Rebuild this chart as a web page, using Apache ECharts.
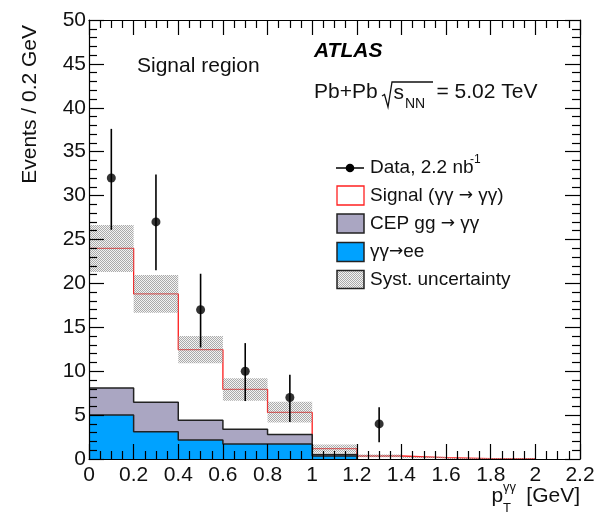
<!DOCTYPE html>
<html><head><meta charset="utf-8">
<script src="https://cdn.jsdelivr.net/npm/echarts@6/dist/echarts.min.js"></script>
<style>html,body{margin:0;padding:0;background:#fff}#c{width:598px;height:515px}</style>
</head><body><div id="c"></div>
<script>
// ---- data ----
const binEdges = [0, 0.2, 0.4, 0.6, 0.8, 1.0, 1.2, 1.4, 1.6, 1.8, 2.0];
const eeValues = [5.0, 3.1, 2.15, 1.7, 1.7, 0.35, 0, 0, 0, 0];
const cepValues = [3.1, 3.35, 2.25, 1.7, 1.1, 0.15, 0, 0, 0, 0];
const signalValues = [15.9, 12.35, 8.05, 4.53, 2.5, 0.68, 0.34, 0.15, 0.05, 0.05];
const systLow = [21.3, 16.67, 10.9, 6.64, 4.17, 0.7, 0.2, 0.08, 0, 0];
const systHigh = [26.65, 20.96, 14.0, 9.19, 6.53, 1.65, 0.5, 0.25, 0.1, 0.1];
const dataX = [0.1, 0.3, 0.5, 0.7, 0.9, 1.3];
const dataY = [32, 27, 17, 10, 7, 4];
const dataErrLow = [26.1, 21.5, 12.7, 6.6, 4.2, 1.9];
const dataErrHigh = [37.6, 32.4, 21.1, 13.2, 9.6, 5.9];
const xTickLabels = ['0','0.2','0.4','0.6','0.8','1','1.2','1.4','1.6','1.8','2','2.2'];
const yTickLabels = ['0','5','10','15','20','25','30','35','40','45','50'];

// ---- helpers ----
const FONT = '"Liberation Sans", Arial, Helvetica, sans-serif';
const cepTotal = eeValues.map((v, i) => v + cepValues[i]);
const sigTotal = cepTotal.map((v, i) => v + signalValues[i]);
function stepData(vals) {
  let last = vals.length - 1;
  while (last > 0 && vals[last] === 0) last--;
  const out = [];
  for (let i = 0; i <= last; i++) out.push([binEdges[i], vals[i]]);
  out.push([binEdges[last + 1], 0]);
  return out;
}
const pc = document.createElement('canvas');
pc.width = 4; pc.height = 4;
const pctx = pc.getContext('2d');
for (let y = 0; y < 4; y++) for (let x = 0; x < 4; x++) {
  const odd = ((x + y) % 2 === 0);
  pctx.fillStyle = odd ? 'rgba(125,125,125,0.65)' : 'rgba(225,225,225,0.4)';
  pctx.fillRect(x, y, 1, 1);
}
const hatch = { image: pc, repeat: 'repeat' };

const chart = echarts.init(document.getElementById('c'), null, { renderer: 'canvas' });
const tickStyle = { color: '#000', width: 1.2 };
function mkAxis(extra) {
  return Object.assign({
    type: 'value', z: 10,
    axisLine: { show: true, onZero: false, lineStyle: { color: '#000', width: 1.2 } },
    splitLine: { show: false },
  }, extra);
}
const legRich = { n: { fontSize: 19, fontFamily: FONT, fill: '#111' },
                  a: { fontSize: 17, fontFamily: '"DejaVu Sans", sans-serif', fill: '#111' } };
const option = {
  animation: false,
  textStyle: { fontFamily: FONT },
  grid: { left: 89, right: 18, top: 20, bottom: 56, containLabel: false },
  xAxis: [
    mkAxis({
      min: 0, max: 2.2, interval: 0.2, position: 'bottom',
      axisTick: { inside: true, length: 15, lineStyle: tickStyle },
      minorTick: { show: true, splitNumber: 4, length: 8, lineStyle: tickStyle },
      axisLabel: { fontSize: 21, color: '#111', margin: 6, fontFamily: FONT,
        formatter: v => xTickLabels[Math.round(v / 0.2)] }
    }),
    mkAxis({
      min: 0, max: 2.2, interval: 0.2, position: 'top',
      axisTick: { inside: true, length: 15, lineStyle: tickStyle },
      minorTick: { show: true, splitNumber: 4, length: 8, lineStyle: tickStyle },
      axisLabel: { show: false }
    })
  ],
  yAxis: [
    mkAxis({
      min: 0, max: 50, interval: 5, position: 'left',
      axisTick: { inside: true, length: 15, lineStyle: tickStyle },
      minorTick: { show: true, splitNumber: 5, length: 8, lineStyle: tickStyle },
      axisLabel: { fontSize: 21, color: '#111', margin: 3, fontFamily: FONT,
        formatter: v => yTickLabels[Math.round(v / 5)] }
    }),
    mkAxis({
      min: 0, max: 50, interval: 5, position: 'right',
      axisTick: { inside: true, length: 15, lineStyle: tickStyle },
      minorTick: { show: true, splitNumber: 5, length: 8, lineStyle: tickStyle },
      axisLabel: { show: false }
    })
  ],
  series: [
    { name: 'Signal', type: 'line', step: 'end', symbol: 'none', z: 2,
      data: stepData(sigTotal), lineStyle: { color: '#ff1a1a', width: 1.3 } },
    { name: 'Syst', type: 'custom', z: 3,
      data: binEdges.slice(0, -1).map((e, i) => [e, binEdges[i + 1], systLow[i], systHigh[i]]).filter(d => d[3] > 0),
      encode: { x: [0, 1], y: [2, 3] },
      renderItem: (params, api) => {
        const p0 = api.coord([api.value(0), api.value(3)]);
        const p1 = api.coord([api.value(1), api.value(2)]);
        return { type: 'rect', shape: { x: p0[0], y: p0[1], width: p1[0] - p0[0], height: p1[1] - p0[1] },
          style: { fill: hatch } };
      } },
    { name: 'CEP', type: 'line', step: 'end', symbol: 'none', z: 4,
      data: stepData(cepTotal), lineStyle: { color: '#222', width: 1.5 },
      areaStyle: { color: '#aaa6c2', opacity: 1 } },
    { name: 'ee', type: 'line', step: 'end', symbol: 'none', z: 5,
      data: stepData(eeValues), lineStyle: { color: '#222', width: 1.5 },
      areaStyle: { color: '#00a2ff', opacity: 1 } },
    { name: 'DataErr', type: 'custom', z: 6,
      data: dataX.map((x, i) => [x, dataErrLow[i], dataErrHigh[i]]),
      encode: { x: 0, y: [1, 2] },
      renderItem: (params, api) => {
        const lo = api.coord([api.value(0), api.value(1)]);
        const hi = api.coord([api.value(0), api.value(2)]);
        return { type: 'line', shape: { x1: lo[0], y1: lo[1], x2: hi[0], y2: hi[1] },
          style: { stroke: '#000', lineWidth: 1.6 } };
      } },
    { name: 'Data', type: 'scatter', z: 7, symbol: 'circle', symbolSize: 9,
      data: dataX.map((x, i) => [x, dataY[i]]), itemStyle: { color: '#000' } }
  ],
  graphic: [
    { type: 'text', z: 20, style: { text: 'Signal region', x: 137, y: 66, font: '21px ' + FONT, fill: '#111', textAlign: 'left', textVerticalAlign: 'middle' } },
    { type: 'text', z: 20, style: { text: 'ATLAS', x: 314, y: 51, font: 'italic bold 21px ' + FONT, fill: '#000', textAlign: 'left', textVerticalAlign: 'middle' } },
    { type: 'text', z: 20, style: { text: 'Pb+Pb', x: 314, y: 92, font: '21px ' + FONT, fill: '#111', textAlign: 'left', textVerticalAlign: 'middle' } },
    { type: 'polyline', z: 20, shape: { points: [[382, 96], [384.5, 94.5], [388, 107], [392, 82], [433, 82]] }, style: { stroke: '#111', lineWidth: 1.3, fill: null } },
    { type: 'text', z: 20, style: { text: 's', x: 393.5, y: 93, font: '21px ' + FONT, fill: '#111', textAlign: 'left', textVerticalAlign: 'middle' } },
    { type: 'text', z: 20, style: { text: 'NN', x: 405, y: 104, font: '14px ' + FONT, fill: '#111', textAlign: 'left', textVerticalAlign: 'middle' } },
    { type: 'text', z: 20, style: { text: '= 5.02 TeV', x: 436.5, y: 92, font: '21px ' + FONT, fill: '#111', textAlign: 'left', textVerticalAlign: 'middle' } },
    // legend
    { type: 'line', z: 20, shape: { x1: 336, y1: 168, x2: 364, y2: 168 }, style: { stroke: '#000', lineWidth: 1.5 } },
    { type: 'circle', z: 20, shape: { cx: 350, cy: 168, r: 4.3 }, style: { fill: '#000' } },
    { type: 'text', z: 20, style: { text: 'Data, 2.2 nb', x: 370, y: 168, font: '19px ' + FONT, fill: '#111', textAlign: 'left', textVerticalAlign: 'middle' } },
    { type: 'text', z: 20, style: { text: '-1', x: 470, y: 160, font: '12px ' + FONT, fill: '#111', textAlign: 'left', textVerticalAlign: 'middle' } },
    { type: 'rect', z: 20, shape: { x: 337, y: 186, width: 27, height: 19 }, style: { fill: '#fff', stroke: '#ff2020', lineWidth: 1.3 } },
    { type: 'text', z: 20, style: { text: '{n|Signal (γγ }{a|→}{n| γγ)}', rich: legRich, x: 370, y: 195.5, textAlign: 'left', textVerticalAlign: 'middle' } },
    { type: 'rect', z: 20, shape: { x: 337, y: 214, width: 27, height: 19 }, style: { fill: '#aaa6c2', stroke: '#222', lineWidth: 1.5 } },
    { type: 'text', z: 20, style: { text: '{n|CEP gg }{a|→}{n| γγ}', rich: legRich, x: 370, y: 223.5, textAlign: 'left', textVerticalAlign: 'middle' } },
    { type: 'rect', z: 20, shape: { x: 337, y: 242.5, width: 27, height: 19 }, style: { fill: '#00a2ff', stroke: '#222', lineWidth: 1.5 } },
    { type: 'text', z: 20, style: { text: '{n|γγ}{a|→}{n|ee}', rich: legRich, x: 370, y: 252, textAlign: 'left', textVerticalAlign: 'middle' } },
    { type: 'rect', z: 20, shape: { x: 337, y: 270.5, width: 27, height: 18 }, style: { fill: hatch, stroke: '#222', lineWidth: 1.5 } },
    { type: 'text', z: 20, style: { text: 'Syst. uncertainty', x: 370, y: 279.5, font: '19px ' + FONT, fill: '#111', textAlign: 'left', textVerticalAlign: 'middle' } },
    // axis titles
    { type: 'text', z: 20, rotation: Math.PI / 2, x: 30, y: 25, style: { text: 'Events / 0.2 GeV', x: 0, y: 0, font: '21px ' + FONT, fill: '#111', textAlign: 'right', textVerticalAlign: 'middle' } },
    { type: 'text', z: 20, style: { text: 'p', x: 491.5, y: 496, font: '21px ' + FONT, fill: '#111', textAlign: 'left', textVerticalAlign: 'middle' } },
    { type: 'text', z: 20, style: { text: 'γγ', x: 503, y: 487, font: '13px ' + FONT, fill: '#111', textAlign: 'left', textVerticalAlign: 'middle' } },
    { type: 'text', z: 20, style: { text: 'T', x: 503, y: 508, font: '13px ' + FONT, fill: '#111', textAlign: 'left', textVerticalAlign: 'middle' } },
    { type: 'text', z: 20, style: { text: '[GeV]', x: 580, y: 496, font: '21px ' + FONT, fill: '#111', textAlign: 'right', textVerticalAlign: 'middle' } }
  ]
};
chart.setOption(option);
</script>
</body></html>
